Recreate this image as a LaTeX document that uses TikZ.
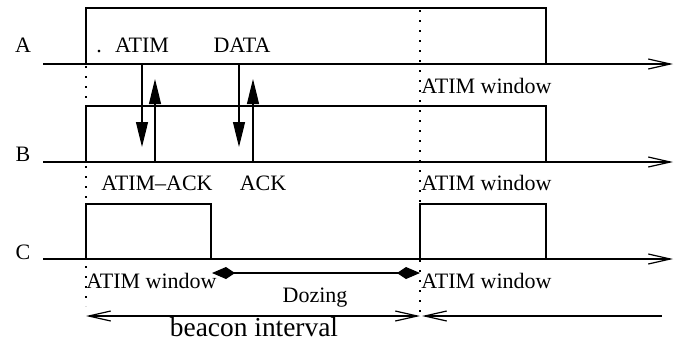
\documentclass[tikz,border=0pt]{standalone}
\usepackage{fontspec}
\setmainfont{Liberation Serif}
\usetikzlibrary{arrows.meta}
\begin{document}
\begin{tikzpicture}[x=0.5pt,y=-0.5pt,
  ln/.style={line width=0.6pt},
  axis/.style={ln,-{Straight Barb[length=11pt,width=5pt]}},
  msg/.style={ln,-{Triangle[length=12.5pt,width=6pt]}},
  dotline/.style={line width=0.8pt,dash pattern=on 0.8pt off 4.2pt},
  doze/.style={ln,{Kite[length=11.5pt,width=6pt,inset=4.5pt]}-{Kite[length=11.5pt,width=6pt,inset=4.5pt]}},
  span/.style={ln,{Straight Barb[length=11pt,width=5pt]}-{Straight Barb[length=11pt,width=5pt]}},
  spanL/.style={ln,{Straight Barb[length=11pt,width=5pt]}-},
  lbl/.style={font=\fontsize{11}{12}\selectfont, inner sep=0pt, anchor=base},
  lblw/.style={lbl, anchor=base west},
  big/.style={font=\fontsize{13.7}{15}\selectfont, inner sep=0pt, anchor=base}
]
\useasboundingbox (0,0) rectangle (679,345);
% axes
\coordinate (A0) at (43,64);  \coordinate (A1) at (673,64);
\coordinate (B0) at (43,162); \coordinate (B1) at (673,162);
\coordinate (C0) at (43,259); \coordinate (C1) at (673,259);
\draw[axis] (A0) -- (A1);
\draw[axis] (B0) -- (B1);
\draw[axis] (C0) -- (C1);
% pulses
\draw[ln] (86,64) -- (86,8) -- (546,8) -- (546,64);
\draw[ln] (86,162) -- (86,106) -- (546,106) -- (546,162);
\draw[ln] (86,259) -- (86,204) -- (211,204) -- (211,259);
\draw[ln] (420,259) -- (420,204) -- (546,204) -- (546,259);
% thicker bits on C axis
\draw[line width=1.2pt] (72,259) -- (86,259);
\draw[line width=1.2pt] (407,259) -- (420,259);
% dotted verticals
\draw[dotline] (86,66) -- (86,306);
\draw[dotline] (420,10) -- (420,312);
% message arrows
\coordinate (m1s) at (142,64);  \coordinate (m1e) at (142,147);
\coordinate (m2s) at (155,162); \coordinate (m2e) at (155,79);
\coordinate (m3s) at (239,64);  \coordinate (m3e) at (239,147);
\coordinate (m4s) at (253,162); \coordinate (m4e) at (253,79);
\draw[msg] (m1s) -- (m1e);
\draw[msg] (m2s) -- (m2e);
\draw[msg] (m3s) -- (m3e);
\draw[msg] (m4s) -- (m4e);
% dozing
\coordinate (d0) at (212,273); \coordinate (d1) at (420,273);
\draw[doze] (d0) -- (d1);
% beacon interval
\coordinate (b0) at (86,316); \coordinate (b1) at (420,316);
\coordinate (b2) at (422,316); \coordinate (b3) at (662,316);
\draw[span] (b0) -- (b1);
\draw[spanL] (b2) -- (b3);
% labels
\node[lbl] (lA) at (23,52) {A};
\node[lbl] (lB) at (23,161) {B};
\node[lbl] (lC) at (23,259) {C};
\node[lbl] (dot) at (99,52) {.};
\node[lbl] (tatim) at (142,52) {ATIM};
\node[lbl] (tdata) at (242,52) {DATA};
\node[lbl] (tatimack) at (157,190) {ATIM--ACK};
\node[lbl] (tack) at (263,190) {ACK};
\node[lblw] (w1) at (421,93) {ATIM window};
\node[lblw] (w2) at (421,190) {ATIM window};
\node[lblw] (w3) at (421,288) {ATIM window};
\node[lblw] (w4) at (86,288) {ATIM window};
\node[lbl] (tdoz) at (315,302) {Dozing};
\node[big] (tbeacon) at (254,336) {beacon interval};
\end{tikzpicture}
\end{document}
